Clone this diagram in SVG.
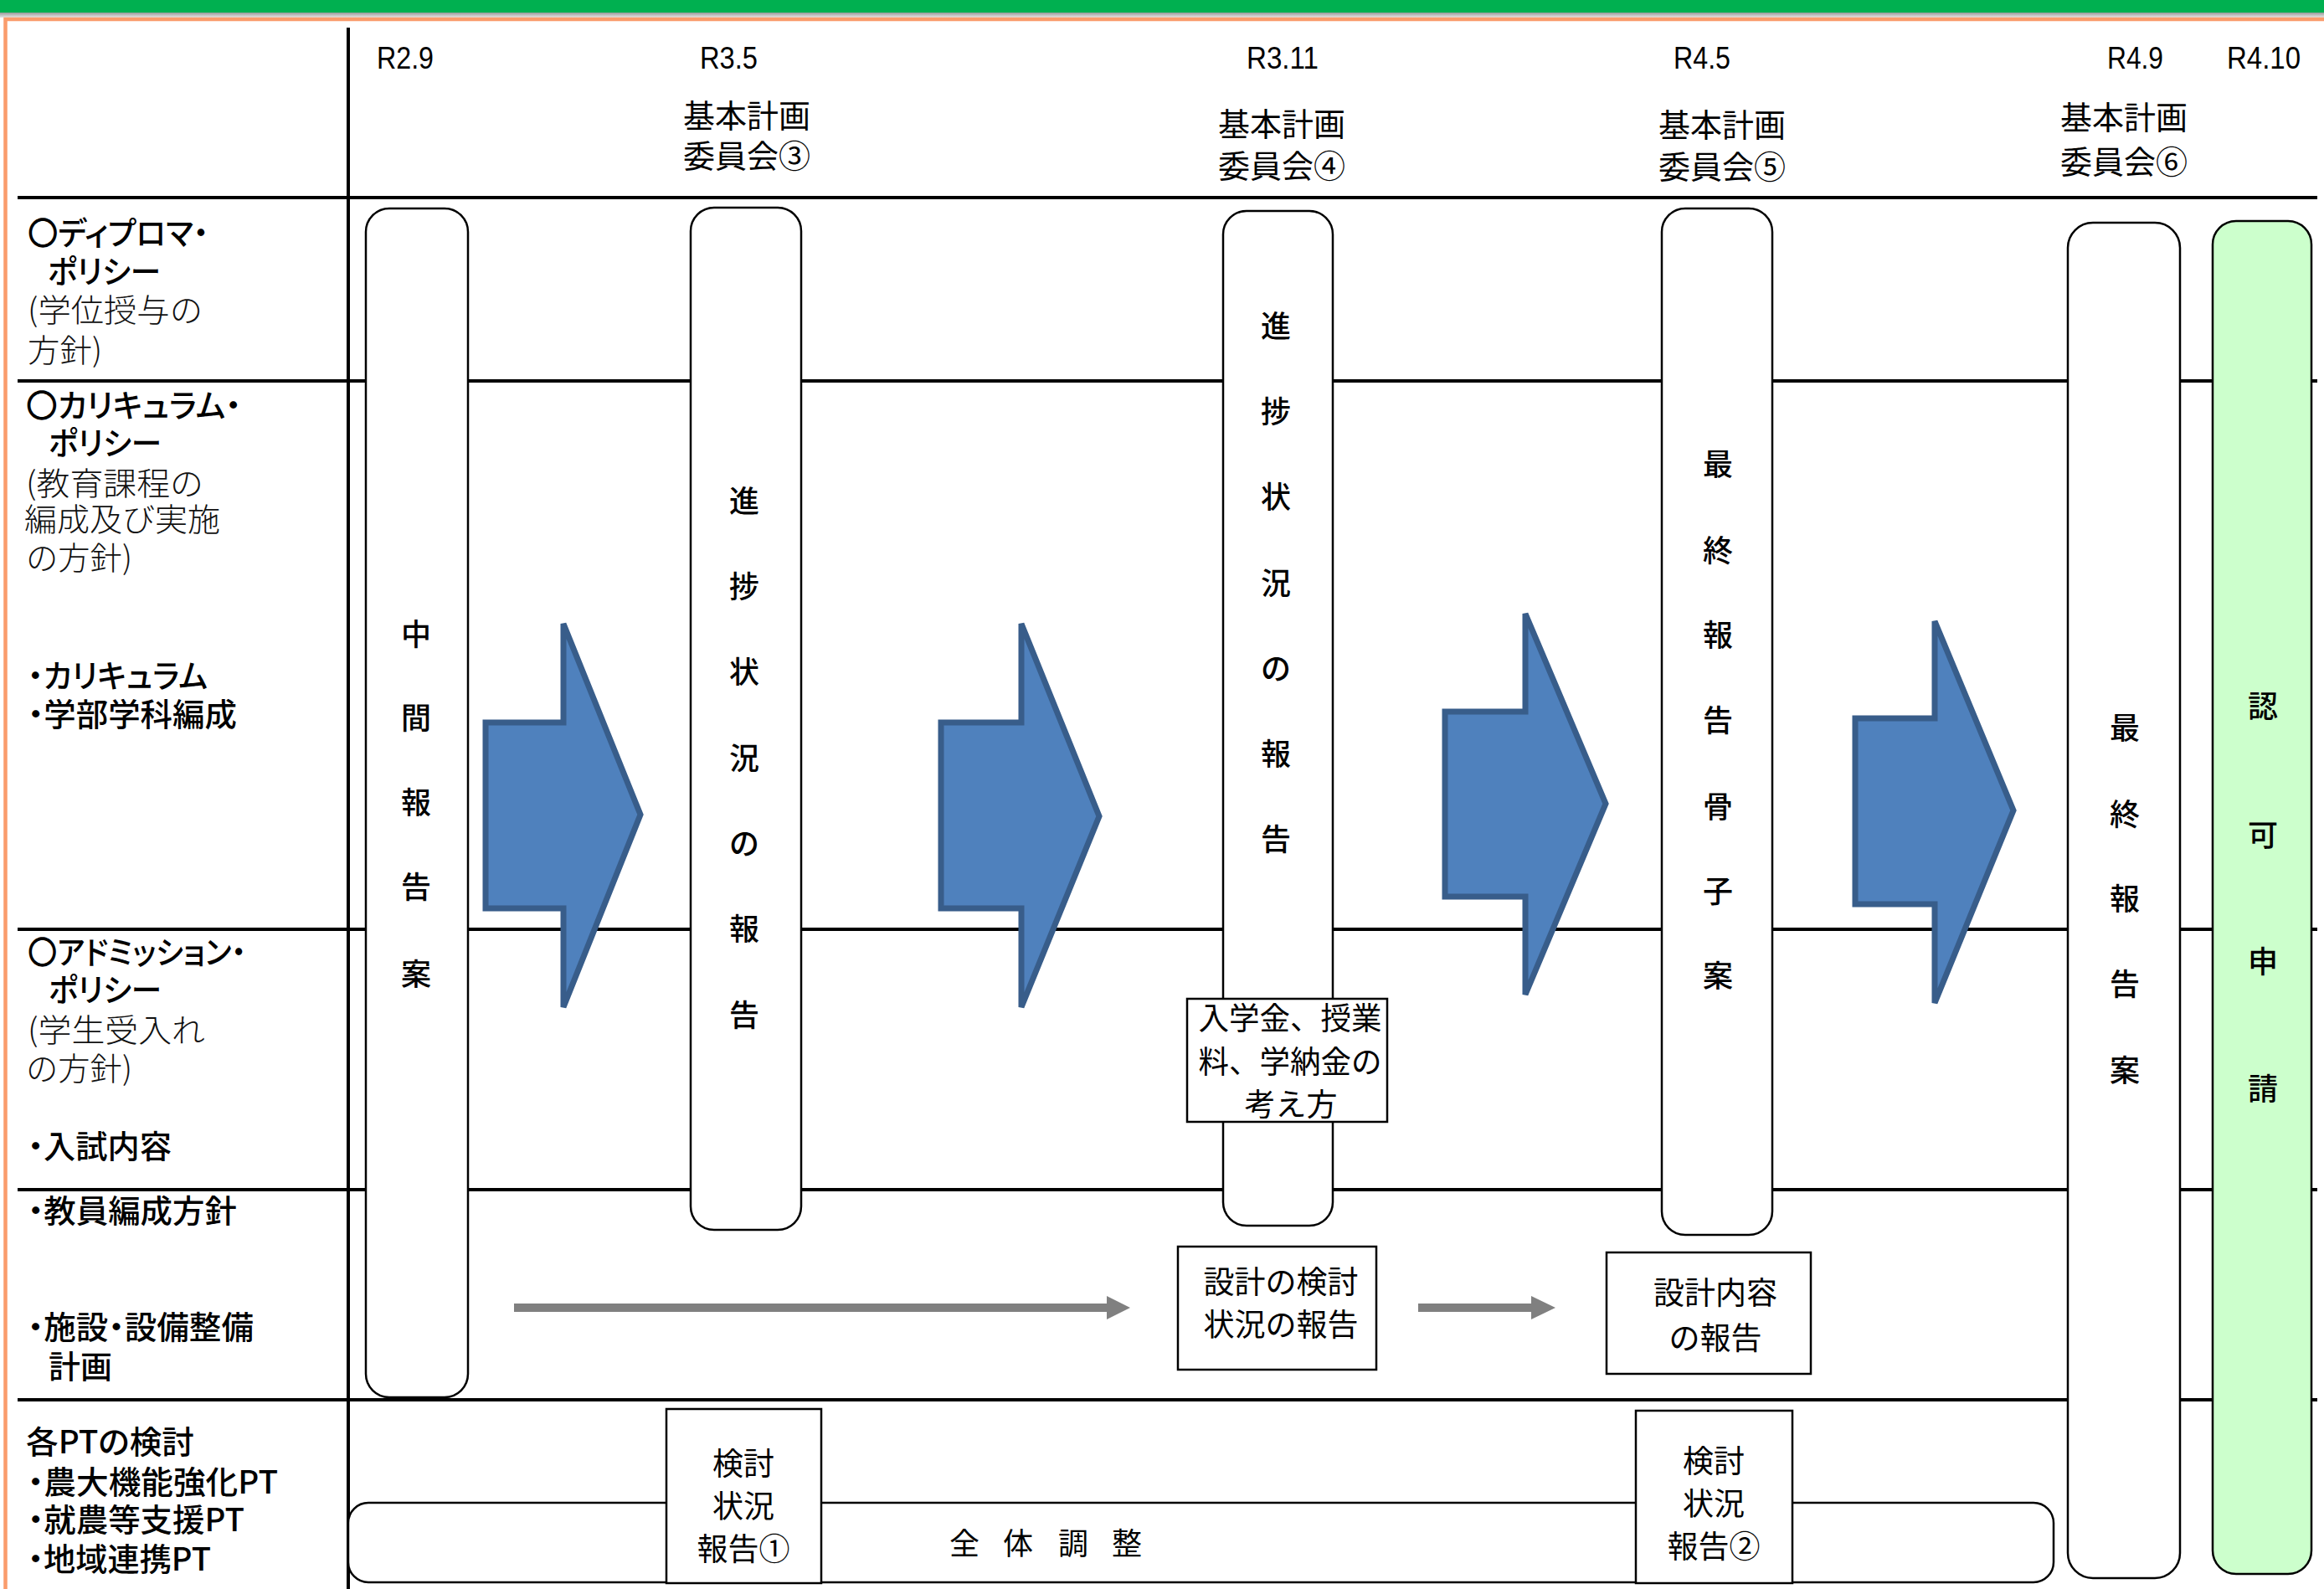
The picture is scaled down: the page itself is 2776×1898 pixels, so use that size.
<svg xmlns="http://www.w3.org/2000/svg" width="2776" height="1898" viewBox="0 0 2776 1898">
<defs>
<linearGradient id="shadow" x1="0" y1="0" x2="0" y2="1">
<stop offset="0" stop-color="#9a9a9a"/>
<stop offset="1" stop-color="#e6e6e6"/>
</linearGradient>
</defs>
<style>
.grid{stroke:#000;stroke-width:4;fill:none}
.bar{fill:#fff;stroke:#000;stroke-width:2.5}
.box{fill:#fff;stroke:#000;stroke-width:2.5}
.blue{fill:#4F81BD;stroke:#385D8A;stroke-width:7;stroke-linejoin:miter}
.gray{fill:#808080}
.cjk{font-family:"Noto Sans CJK JP","Noto Sans CJK SC",sans-serif;fill:#000;transform:translate(0px,-4px)}
.lab{font-size:38px;font-weight:500;dominant-baseline:central;font-feature-settings:"palt"}
.thin{font-size:38px;font-weight:300;fill:#111;dominant-baseline:central}
.hd{font-size:38px;dominant-baseline:central;text-anchor:middle}
.vt{font-size:36px;font-weight:500;dominant-baseline:central;text-anchor:middle}
.bx{font-size:37px;dominant-baseline:central;text-anchor:middle}
.lat{font-family:"Liberation Sans",Arial,sans-serif;font-size:37px;fill:#000}
</style>
<rect x="0" y="0" width="2776" height="15" fill="#00B050"/>
<rect x="0" y="15" width="2776" height="6" fill="url(#shadow)"/>
<rect x="6.5" y="23" width="2800" height="1900" fill="#fff" stroke="#FA9C6C" stroke-width="4.5"/>
<g id="grid">
<line class="grid" x1="416" y1="33" x2="416" y2="1898"/>
<line class="grid" x1="21" y1="236" x2="2768" y2="236"/>
<line class="grid" x1="21" y1="455" x2="2768" y2="455"/>
<line class="grid" x1="21" y1="1110" x2="2768" y2="1110"/>
<line class="grid" x1="21" y1="1421" x2="2768" y2="1421"/>
<line class="grid" x1="21" y1="1672" x2="2768" y2="1672"/>
</g>
<g id="header">
<text class="lat" x="450" y="82" textLength="68" lengthAdjust="spacingAndGlyphs">R2.9</text>
<text class="lat" x="836" y="82" textLength="69" lengthAdjust="spacingAndGlyphs">R3.5</text>
<text class="lat" x="1489" y="82" textLength="86" lengthAdjust="spacingAndGlyphs">R3.11</text>
<text class="lat" x="1999" y="82" textLength="68" lengthAdjust="spacingAndGlyphs">R4.5</text>
<text class="lat" x="2517" y="82" textLength="67" lengthAdjust="spacingAndGlyphs">R4.9</text>
<text class="lat" x="2660" y="82" textLength="88" lengthAdjust="spacingAndGlyphs">R4.10</text>
<text class="cjk hd" x="892" y="139">基本計画</text>
<text class="cjk hd" x="892" y="187">委員会③</text>
<text class="cjk hd" x="1531" y="149">基本計画</text>
<text class="cjk hd" x="1531" y="199">委員会④</text>
<text class="cjk hd" x="2057" y="150">基本計画</text>
<text class="cjk hd" x="2057" y="200">委員会⑤</text>
<text class="cjk hd" x="2537" y="141">基本計画</text>
<text class="cjk hd" x="2537" y="194">委員会⑥</text>
</g>
<g id="labels">
<text class="cjk lab" x="33" y="279" textLength="216" lengthAdjust="spacingAndGlyphs">〇ディプロマ・</text>
<text class="cjk lab" x="57" y="325" textLength="135" lengthAdjust="spacingAndGlyphs">ポリシー</text>
<text class="cjk thin" x="33" y="371" textLength="209" lengthAdjust="spacingAndGlyphs">(学位授与の</text>
<text class="cjk thin" x="33" y="419" textLength="89" lengthAdjust="spacingAndGlyphs">方針)</text>
<text class="cjk lab" x="31" y="485" textLength="257" lengthAdjust="spacingAndGlyphs">〇カリキュラム・</text>
<text class="cjk lab" x="58" y="530" textLength="135" lengthAdjust="spacingAndGlyphs">ポリシー</text>
<text class="cjk thin" x="31" y="578" textLength="212" lengthAdjust="spacingAndGlyphs">(教育課程の</text>
<text class="cjk thin" x="29" y="621" textLength="234" lengthAdjust="spacingAndGlyphs">編成及び実施</text>
<text class="cjk thin" x="31" y="667" textLength="127" lengthAdjust="spacingAndGlyphs">の方針)</text>
<text class="cjk lab" x="33" y="808" textLength="215" lengthAdjust="spacingAndGlyphs">・カリキュラム</text>
<text class="cjk lab" x="33" y="854" textLength="250" lengthAdjust="spacingAndGlyphs">・学部学科編成</text>
<text class="cjk lab" x="33" y="1138" textLength="261" lengthAdjust="spacingAndGlyphs">〇アドミッション・</text>
<text class="cjk lab" x="58" y="1183" textLength="135" lengthAdjust="spacingAndGlyphs">ポリシー</text>
<text class="cjk thin" x="33" y="1231" textLength="212" lengthAdjust="spacingAndGlyphs">(学生受入れ</text>
<text class="cjk thin" x="31" y="1277" textLength="127" lengthAdjust="spacingAndGlyphs">の方針)</text>
<text class="cjk lab" x="33" y="1370" textLength="172" lengthAdjust="spacingAndGlyphs">・入試内容</text>
<text class="cjk lab" x="33" y="1447" textLength="250" lengthAdjust="spacingAndGlyphs">・教員編成方針</text>
<text class="cjk lab" x="33" y="1586" textLength="270" lengthAdjust="spacingAndGlyphs">・施設・設備整備</text>
<text class="cjk lab" x="58" y="1633" textLength="76" lengthAdjust="spacingAndGlyphs">計画</text>
<text class="cjk lab" x="31" y="1723" textLength="201" lengthAdjust="spacingAndGlyphs">各PTの検討</text>
<text class="cjk lab" x="33" y="1771" textLength="299" lengthAdjust="spacingAndGlyphs">・農大機能強化PT</text>
<text class="cjk lab" x="33" y="1816" textLength="259" lengthAdjust="spacingAndGlyphs">・就農等支援PT</text>
<text class="cjk lab" x="33" y="1863" textLength="219" lengthAdjust="spacingAndGlyphs">・地域連携PT</text>
</g>
<g id="zentai">
<rect class="bar" x="416" y="1795" width="2037" height="95" rx="24"/>
<text class="cjk bx" x="1152 1216 1282 1346" y="1845" style="font-size:36px">全体調整</text>
</g>
<g id="connectors">
<path class="blue" d="M580,863 H673 V745 L765,973 L673,1203 V1085 H580 Z"/>
<path class="blue" d="M1124,863 H1220 V745 L1313,975 L1220,1203 V1085 H1124 Z"/>
<path class="blue" d="M1726,850 H1822 V733 L1918,960 L1822,1188 V1071 H1726 Z"/>
<path class="blue" d="M2216,858 H2311 V742 L2405,968 L2311,1198 V1080 H2216 Z"/>
<path class="gray" d="M614,1557 H1322 V1548 L1350,1562 L1322,1576 V1567 H614 Z"/>
<path class="gray" d="M1694,1557 H1829 V1548 L1858,1562 L1829,1576 V1567 H1694 Z"/>
</g>
<g id="bar1">
<rect class="bar" x="437" y="249" width="122" height="1420" rx="28"/>
<text class="cjk vt" x="497 497 497 497 497" y="759 859 960 1061 1165">中間報告案</text>
</g>
<g id="bar2">
<rect class="bar" x="825" y="248" width="132" height="1221" rx="28"/>
<text class="cjk vt" x="889 889 889 889 889 889 889" y="600 702 804 907 1009 1111 1214">進捗状況の報告</text>
</g>
<g id="bar3">
<rect class="bar" x="1461" y="252" width="131" height="1212" rx="28"/>
<text class="cjk vt" x="1524 1524 1524 1524 1524 1524 1524" y="391 493 595 698 800 902 1004">進捗状況の報告</text>
</g>
<g id="bar4">
<rect class="bar" x="1985" y="249" width="132" height="1226" rx="28"/>
<text class="cjk vt" x="2052 2052 2052 2052 2052 2052 2052" y="556 659 760 862 965 1066 1167">最終報告骨子案</text>
</g>
<g id="bar5">
<rect class="bar" x="2470" y="266" width="134" height="1619" rx="30"/>
<text class="cjk vt" x="2538 2538 2538 2538 2538" y="871 974 1075 1177 1280">最終報告案</text>
</g>
<g id="bar6">
<rect class="bar" x="2643" y="264" width="118" height="1616" rx="28" style="fill:#CCFFCC"/>
<text class="cjk vt" x="2703 2703 2703 2703" y="845 999 1150 1302">認可申請</text>
</g>
<g id="box-gakunoukin">
<rect class="box" x="1418" y="1193" width="239" height="147"/>
<text class="cjk bx" x="1541" y="1218" textLength="219" lengthAdjust="spacingAndGlyphs">入学金、授業</text>
<text class="cjk bx" x="1541" y="1270" textLength="219" lengthAdjust="spacingAndGlyphs">料、学納金の</text>
<text class="cjk bx" x="1542" y="1321">考え方</text>
</g>
<g id="box-sekkei1">
<rect class="box" x="1407" y="1489" width="237" height="147"/>
<text class="cjk bx" x="1530" y="1533">設計の検討</text>
<text class="cjk bx" x="1530" y="1584">状況の報告</text>
</g>
<g id="box-sekkei2">
<rect class="box" x="1919" y="1496" width="244" height="145"/>
<text class="cjk bx" x="2049" y="1546">設計内容</text>
<text class="cjk bx" x="2049" y="1600">の報告</text>
</g>
<g id="box-kento1">
<rect class="box" x="796" y="1683" width="185" height="208"/>
<text class="cjk bx" x="888" y="1750">検討</text>
<text class="cjk bx" x="888" y="1801">状況</text>
<text class="cjk bx" x="888" y="1852">報告①</text>
</g>
<g id="box-kento2">
<rect class="box" x="1954" y="1685" width="187" height="206"/>
<text class="cjk bx" x="2047" y="1747">検討</text>
<text class="cjk bx" x="2047" y="1798">状況</text>
<text class="cjk bx" x="2047" y="1849">報告②</text>
</g>
</svg>
